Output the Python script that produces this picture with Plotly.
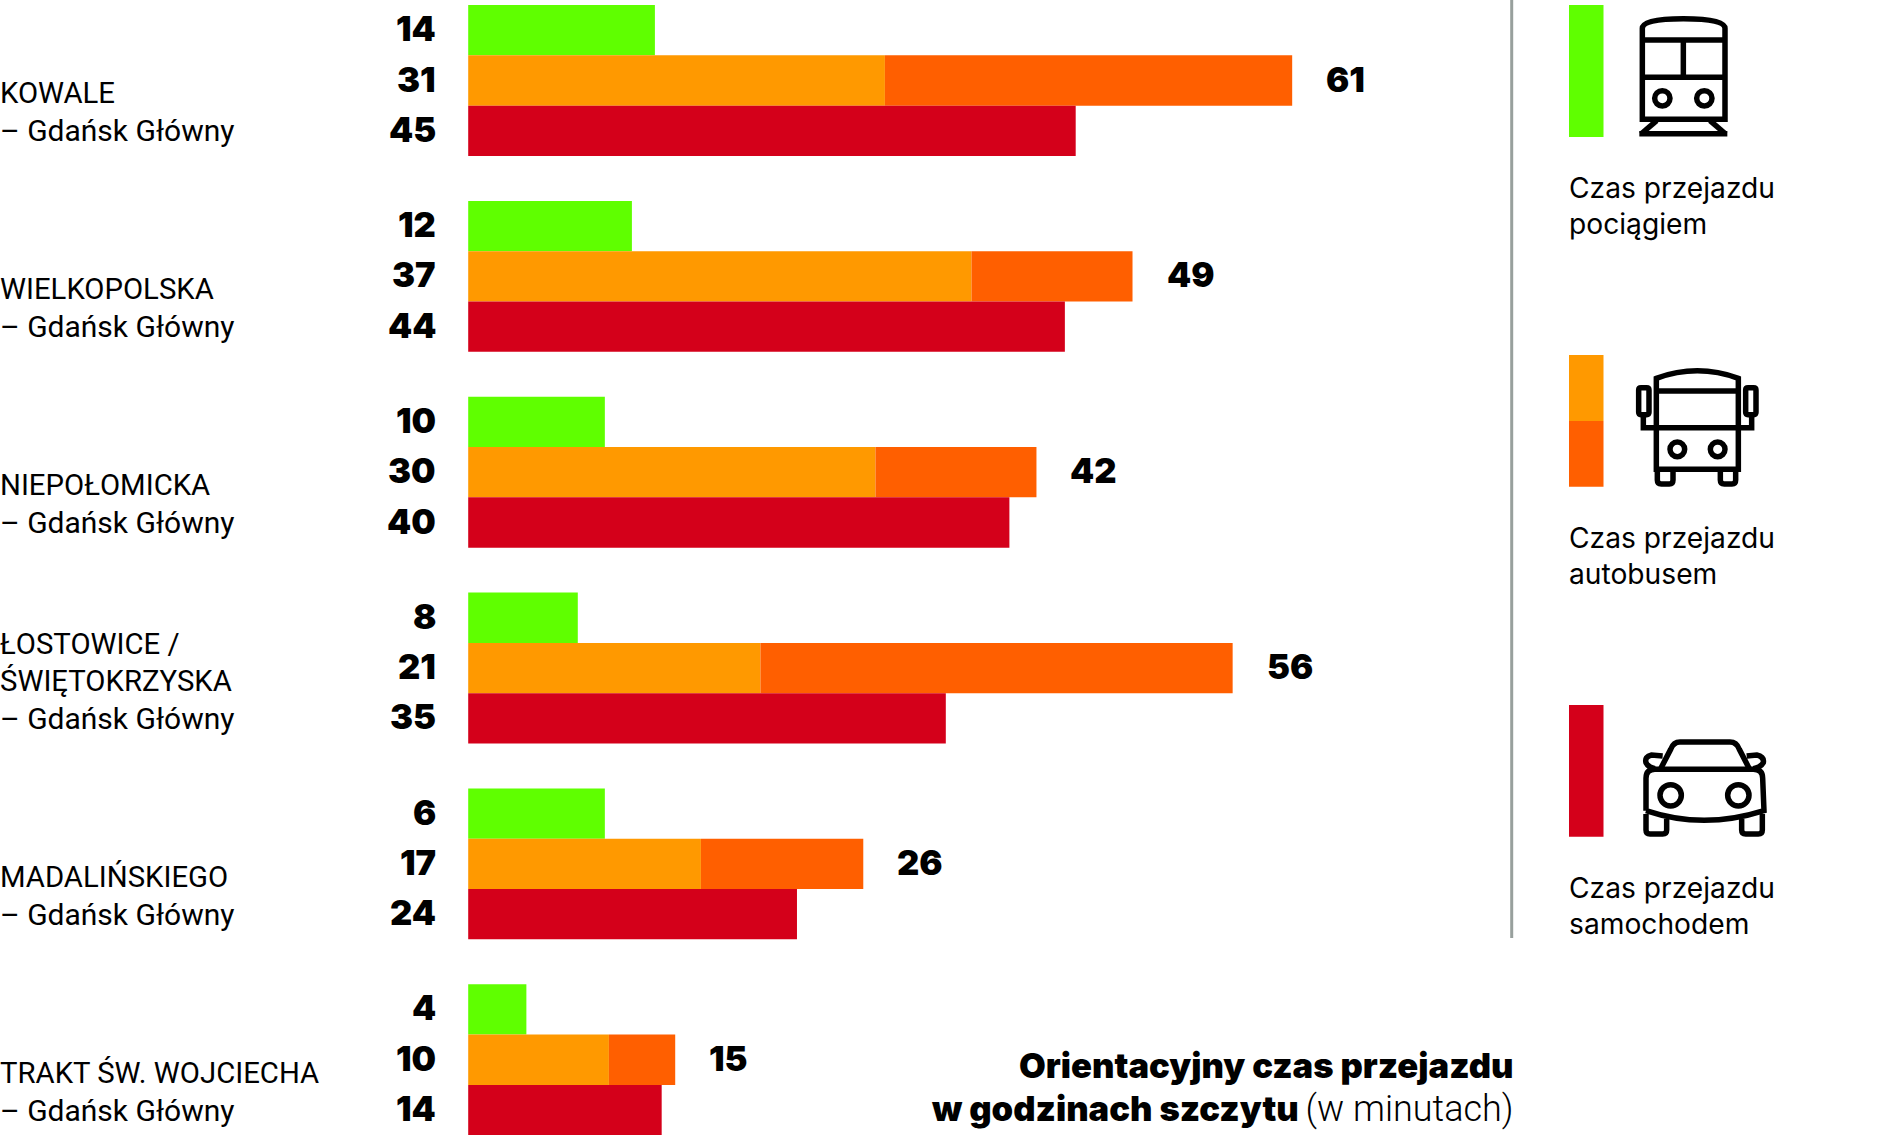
import plotly.graph_objects as go

W, H = 1886, 1135

# ---------- data ----------
stops = ["KOWALE", "WIELKOPOLSKA", "NIEPOŁOMICKA", "ŁOSTOWICE", "MADALIŃSKIEGO", "TRAKT ŚW. WOJCIECHA"]
stop_lines = [
    ["KOWALE", "– Gdańsk Główny"],
    ["WIELKOPOLSKA", "– Gdańsk Główny"],
    ["NIEPOŁOMICKA", "– Gdańsk Główny"],
    ["ŁOSTOWICE /", "ŚWIĘTOKRZYSKA", "– Gdańsk Główny"],
    ["MADALIŃSKIEGO", "– Gdańsk Główny"],
    ["TRAKT ŚW. WOJCIECHA", "– Gdańsk Główny"],
]
# printed numbers
train_label = [14, 12, 10, 8, 6, 4]
bus_min_label = [31, 37, 30, 21, 17, 10]
bus_max_label = [61, 49, 42, 56, 26, 15]
car_label = [45, 44, 40, 35, 24, 14]
# drawn bar lengths
train_len = [13.8, 12.1, 10.1, 8.1, 10.1, 4.3]
bus_min_len = [30.8, 37.2, 30.1, 21.6, 17.2, 10.4]
bus_max_len = [60.9, 49.1, 42.0, 56.5, 29.2, 15.3]
car_len = [44.9, 44.1, 40.0, 35.3, 24.3, 14.3]

GREEN, ORANGE, DARK, RED = "#5fff00", "#ff9900", "#ff5f00", "#d4001a"
LABEL_FONT = "Roboto"
BOLD_FONT = "Inter"
LEG_FONT = "Inter"

PX_PER_MIN = 13.53
X0 = 468.2
PITCH, FIRST_C, BAR_H = 195.85, 80.5, 50.3
w = BAR_H / PITCH


def fx(p):
    return p / W


def fy(p):
    return 1 - p / H


fig = go.Figure()
fig.add_bar(y=stops, x=train_len, orientation="h", width=w, offset=-1.5 * w, marker=dict(color=GREEN, line_width=0), name="pociąg")
fig.add_bar(y=stops, x=bus_min_len, orientation="h", width=w, offset=-0.5 * w, marker=dict(color=ORANGE, line_width=0), name="autobus min")
fig.add_bar(y=stops, x=[b - a for a, b in zip(bus_min_len, bus_max_len)], base=bus_min_len, orientation="h", width=w, offset=-0.5 * w, marker=dict(color=DARK, line_width=0), name="autobus max")
fig.add_bar(y=stops, x=car_len, orientation="h", width=w, offset=0.5 * w, marker=dict(color=RED, line_width=0), name="samochód")

ann = []
NUM = dict(family=BOLD_FONT, size=34.5, color="#000", weight=900)
for i, s in enumerate(stops):
    for lab, dy in ((train_label[i], BAR_H), (bus_min_label[i], 0), (car_label[i], -BAR_H)):
        ann.append(dict(x=0, y=s, xref="x", yref="y", text=str(lab), showarrow=False, xanchor="right",
                        yanchor="middle", xshift=-30.5, yshift=dy + 1.5, font=NUM))
    ann.append(dict(x=bus_max_len[i], y=s, xref="x", yref="y", text=str(bus_max_label[i]), showarrow=False,
                    xanchor="left", yanchor="middle", xshift=32, yshift=1.5, font=NUM))
    lines = stop_lines[i]
    c = FIRST_C + PITCH * i
    bottom = c + 50.5  # centre of last line
    for k, t in enumerate(reversed(lines)):
        size = 30 if t.startswith("–") else 29.3
        ann.append(dict(x=fx(-2), y=fy(bottom - 37.5 * k), xref="paper", yref="paper", text=t, showarrow=False,
                        xanchor="left", yanchor="middle", font=dict(family=LABEL_FONT, size=size, color="#000")))

for t, cy in (("Czas przejazdu", 187.6), ("pociągiem", 224), ("Czas przejazdu", 537.5), ("autobusem", 574),
              ("Czas przejazdu", 887.5), ("samochodem", 924)):
    ann.append(dict(x=fx(1567), y=fy(cy), xref="paper", yref="paper", text=t, showarrow=False,
                    xanchor="left", yanchor="middle", font=dict(family=LEG_FONT, size=28.2, color="#000")))

TITLE = dict(family=BOLD_FONT, size=34.6, color="#000", weight=900)
ann.append(dict(x=fx(1516), y=fy(1065), xref="paper", yref="paper", text="Orientacyjny czas przejazdu",
                showarrow=False, xanchor="right", yanchor="middle", font=TITLE))
ann.append(dict(x=fx(1516), y=fy(1108), xref="paper", yref="paper",
                text='w godzinach szczytu <span style="font-weight:300;font-family:Roboto;font-size:36px">(w minutach)</span>',
                showarrow=False, xanchor="right", yanchor="middle", font=TITLE))

shapes = []


def rect(x0, y0, x1, y1, color):
    shapes.append(dict(type="rect", xref="paper", yref="paper", x0=fx(x0), x1=fx(x1), y0=fy(y0), y1=fy(y1),
                       fillcolor=color, line_width=0, layer="above"))


rect(1510.2, 0, 1513.2, 938, "#98a09d")
rect(1569, 5, 1603.5, 137, GREEN)
rect(1569, 355, 1603.5, 421, ORANGE)
rect(1569, 421, 1603.5, 486.7, DARK)
rect(1569, 705, 1603.5, 836.7, RED)

LW = 5.5


def icon_path(cmds, ox, oy, lw=LW):
    """cmds: list of (letter, coords...) in zoomed icon units (3x) from origin ox, oy."""
    out = []
    for c in cmds:
        if c == "Z":
            out.append("Z")
            continue
        letter, *vals = c
        pts = []
        for j in range(0, len(vals), 2):
            pts.append(f"{fx(ox + vals[j] / 3):.6f},{fy(oy + vals[j + 1] / 3):.6f}")
        out.append(letter + " ".join(pts))
    shapes.append(dict(type="path", xref="paper", yref="paper", path=" ".join(out),
                       line=dict(color="#000", width=lw), fillcolor="rgba(0,0,0,0)", layer="above"))


def circ(cx, cy, r, ox, oy, lw=LW):
    shapes.append(dict(type="circle", xref="paper", yref="paper", x0=fx(ox + (cx - r) / 3), x1=fx(ox + (cx + r) / 3),
                       y0=fy(oy + (cy - r) / 3), y1=fy(oy + (cy + r) / 3), line=dict(color="#000", width=lw), layer="above"))


# train
ox, oy = 1480, 0
icon_path([("M", 487, 358), ("L", 487, 85), ("Q", 487, 56, 610, 56), ("Q", 735, 56, 735, 85), ("L", 735, 358), "Z"], ox, oy)
icon_path([("M", 487, 120), ("L", 735, 120)], ox, oy)
icon_path([("M", 487, 232), ("L", 735, 232)], ox, oy)
icon_path([("M", 610, 120), ("L", 610, 232)], ox, oy)
circ(547, 295, 23, ox, oy)
circ(673, 295, 23, ox, oy)
icon_path([("M", 530, 362), ("L", 483, 402)], ox, oy)
icon_path([("M", 690, 362), ("L", 737, 402)], ox, oy)
icon_path([("M", 478, 401), ("L", 742, 401)], ox, oy)

# bus
ox, oy = 1540, 340
icon_path([("M", 349, 388), ("L", 349, 115), ("Q", 472, 70, 595, 115), ("L", 595, 388), "Z"], ox, oy)
icon_path([("M", 349, 153), ("L", 595, 153)], ox, oy)
icon_path([("M", 310, 226), ("L", 310, 263), ("L", 635, 263), ("L", 635, 226)], ox, oy)
icon_path([("M", 296, 150), ("Q", 296, 143, 303, 143), ("L", 320, 143), ("Q", 327, 143, 327, 150), ("L", 327, 217),
           ("Q", 327, 224, 320, 224), ("L", 303, 224), ("Q", 296, 224, 296, 217), "Z"], ox, oy)
icon_path([("M", 617, 150), ("Q", 617, 143, 624, 143), ("L", 641, 143), ("Q", 648, 143, 648, 150), ("L", 648, 217),
           ("Q", 648, 224, 641, 224), ("L", 624, 224), ("Q", 617, 224, 617, 217), "Z"], ox, oy)
circ(412, 328, 22, ox, oy)
circ(533, 328, 22, ox, oy)
icon_path([("M", 352, 392), ("L", 352, 420), ("Q", 352, 432, 364, 432), ("L", 388, 432), ("Q", 399, 432, 399, 420), ("L", 399, 392)], ox, oy)
icon_path([("M", 541, 392), ("L", 541, 420), ("Q", 541, 432, 553, 432), ("L", 576, 432), ("Q", 587, 432, 587, 420), ("L", 587, 392)], ox, oy)

# car
ox, oy = 1540, 690
icon_path([("M", 362, 236), ("L", 392, 178), ("Q", 400, 156, 420, 156), ("L", 570, 156), ("Q", 590, 156, 598, 178), ("L", 628, 236)], ox, oy)
icon_path([("M", 318, 362), ("L", 318, 265), ("Q", 318, 238, 345, 238), ("L", 640, 238), ("Q", 668, 238, 668, 265), ("L", 672, 362),
           ("Q", 490, 420, 318, 362)], ox, oy)
circ(392, 316, 32, ox, oy)
circ(595, 316, 32, ox, oy)
icon_path([("M", 318, 372), ("L", 318, 420), ("Q", 318, 432, 330, 432), ("L", 368, 432), ("Q", 380, 432, 380, 420), ("L", 380, 386)], ox, oy)
icon_path([("M", 605, 386), ("L", 605, 420), ("Q", 605, 432, 617, 432), ("L", 655, 432), ("Q", 667, 432, 667, 420), ("L", 667, 372)], ox, oy)
icon_path([("M", 368, 198), ("L", 335, 195), ("Q", 313, 200, 318, 218), ("Q", 325, 232, 345, 236)], ox, oy)
icon_path([("M", 620, 198), ("L", 650, 195), ("Q", 673, 200, 670, 218), ("Q", 662, 232, 640, 236)], ox, oy)

fig.update_layout(
    width=W, height=H, margin=dict(l=0, r=0, t=0, b=0), paper_bgcolor="#fff", plot_bgcolor="#fff",
    barmode="overlay", showlegend=False, annotations=ann, shapes=shapes,
    xaxis=dict(range=[-X0 / PX_PER_MIN, (W - X0) / PX_PER_MIN], visible=False, fixedrange=True),
    yaxis=dict(type="category", categoryorder="array", categoryarray=stops,
               range=[(H - FIRST_C) / PITCH, -FIRST_C / PITCH], visible=False, fixedrange=True),
)
fig.write_html("out.html", config={"displayModeBar": False},
               post_script="document.body.style.margin='0';document.body.style.overflow='hidden';")
